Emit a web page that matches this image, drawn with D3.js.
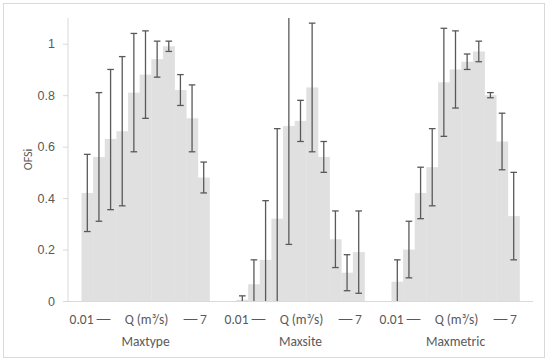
<!DOCTYPE html>
<html>
<head>
<meta charset="utf-8">
<script src="https://cdn.jsdelivr.net/npm/d3@7"></script>
<style>
  body { margin: 0; background: #fff; }
  svg { font-family: Calibri, Carlito, Lato, sans-serif; }
</style>
</head>
<body>
<svg id="chart"></svg>
<script>
// groups along the x axis
const groups = ['Maxtype', 'Maxsite', 'Maxmetric'];
const yTicks = [0, 0.2, 0.4, 0.6, 0.8, 1];

// 11 discharge classes per group (0.01 -> 7 m3/s): mean OFSi and error bar ends
const maxtypeMean = [0.42, 0.56, 0.63, 0.66, 0.81, 0.88, 0.94, 0.99, 0.82, 0.71, 0.48];
const maxtypeHi   = [0.57, 0.81, 0.90, 0.95, 1.04, 1.05, 1.01, 1.01, 0.88, 0.84, 0.54];
const maxtypeLo   = [0.27, 0.31, 0.355, 0.37, 0.58, 0.71, 0.87, 0.97, 0.76, 0.58, 0.42];

const maxsiteMean = [0.005, 0.065, 0.16, 0.32, 0.68, 0.70, 0.83, 0.56, 0.24, 0.11, 0.19];
const maxsiteHi   = [0.02, 0.16, 0.39, 0.67, 1.14, 0.78, 1.08, 0.62, 0.35, 0.18, 0.35];
const maxsiteLo   = [-0.01, -0.03, -0.07, -0.03, 0.22, 0.62, 0.58, 0.50, 0.13, 0.04, 0.03];

const maxmetricMean = [0.075, 0.20, 0.42, 0.52, 0.85, 0.90, 0.93, 0.97, 0.80, 0.62, 0.33];
const maxmetricHi   = [0.16, 0.31, 0.52, 0.67, 1.06, 1.05, 0.96, 1.01, 0.81, 0.73, 0.50];
const maxmetricLo   = [-0.01, 0.09, 0.32, 0.37, 0.64, 0.75, 0.90, 0.93, 0.79, 0.51, 0.16];

const seriesMean = [maxtypeMean, maxsiteMean, maxmetricMean];
const seriesHi = [maxtypeHi, maxsiteHi, maxmetricHi];
const seriesLo = [maxtypeLo, maxsiteLo, maxmetricLo];

const width = 550, height = 361;
const margin = { top: 18, right: 17, bottom: 60, left: 68 };
const plotW = width - margin.left - margin.right;
const plotH = height - margin.top - margin.bottom;

const svg = d3.select('#chart')
  .attr('width', width)
  .attr('height', height);

// outer chart frame
svg.append('rect')
  .attr('x', 3.5).attr('y', 3.5)
  .attr('width', 541).attr('height', 354)
  .attr('fill', '#fff')
  .attr('stroke', '#d9d9d9');

const g = svg.append('g')
  .attr('transform', `translate(${margin.left},${margin.top})`);

const x = d3.scaleBand()
  .domain(groups)
  .range([0, plotW])
  .padding(0);

const y = d3.scaleLinear()
  .domain([0, 1.1])
  .range([plotH, 0]);

// bars inside one group: 11 classes, gap of ~2.3 bar widths between groups
const classes = d3.range(11);
const inner = d3.scaleBand()
  .domain(classes)
  .range([x.bandwidth() * 0.087, x.bandwidth() * 0.913])
  .padding(0);

const rows = [];
groups.forEach((grp, gi) => {
  classes.forEach(i => {
    rows.push({ grp, i, v: seriesMean[gi][i], hi: seriesHi[gi][i], lo: seriesLo[gi][i] });
  });
});

// bars
g.selectAll('.bar')
  .data(rows)
  .enter()
  .append('rect')
  .attr('class', 'bar')
  .attr('x', d => x(d.grp) + inner(d.i))
  .attr('y', d => y(d.v))
  .attr('width', inner.bandwidth() + 0.3)
  .attr('height', d => plotH - y(d.v))
  .attr('fill', '#e0e0e0');

// axes
const yAxis = d3.axisLeft(y).tickValues(yTicks).tickSize(5).tickFormat(d3.format('~g'));
const yAxisG = g.append('g').call(yAxis);
yAxisG.select('.domain').attr('stroke', '#d9d9d9').attr('d', `M0,0V${plotH}`);
yAxisG.selectAll('.tick line').attr('stroke', '#d9d9d9');
yAxisG.selectAll('.tick text')
  .attr('x', -13)
  .attr('fill', '#595959')
  .style('font-size', '12.5px');

g.append('line')
  .attr('x1', 0).attr('x2', plotW)
  .attr('y1', plotH + 0.5).attr('y2', plotH + 0.5)
  .attr('stroke', '#d9d9d9');

// error bars, clipped to the plot area
const clip = v => Math.max(0, Math.min(1.1, v));
const cap = 3.3;
const err = g.selectAll('.err')
  .data(rows)
  .enter()
  .append('g')
  .attr('class', 'err')
  .attr('stroke', '#595959')
  .attr('stroke-width', 1.3);

const cx = d => x(d.grp) + inner(d.i) + inner.bandwidth() / 2;
err.append('line')
  .attr('x1', cx).attr('x2', cx)
  .attr('y1', d => y(clip(d.hi)))
  .attr('y2', d => y(clip(d.lo)));
err.filter(d => d.hi <= 1.1).append('line')
  .attr('x1', d => cx(d) - cap).attr('x2', d => cx(d) + cap)
  .attr('y1', d => y(d.hi)).attr('y2', d => y(d.hi));
err.filter(d => d.lo >= 0).append('line')
  .attr('x1', d => cx(d) - cap).attr('x2', d => cx(d) + cap)
  .attr('y1', d => y(d.lo)).attr('y2', d => y(d.lo));

// category labels: "0.01 —— Q (m³/s) —— 7" then the group name
const labels = g.selectAll('.cat')
  .data(groups)
  .enter()
  .append('g')
  .attr('class', 'cat')
  .attr('transform', d => `translate(${x(d) + x.bandwidth() / 2},0)`)
  .attr('fill', '#595959')
  .style('font-size', '13.5px');

const qy = plotH + 23;
labels.append('text')
  .attr('x', -52).attr('y', qy)
  .attr('text-anchor', 'end')
  .text('0.01');
labels.append('text')
  .attr('x', -50.5).attr('y', qy)
  .attr('textLength', 17).attr('lengthAdjust', 'spacingAndGlyphs')
  .text('\u2014');
labels.append('text')
  .attr('x', 1).attr('y', qy)
  .attr('text-anchor', 'middle')
  .text('Q (m\u00b3/s)');
labels.append('text')
  .attr('x', 36.5).attr('y', qy)
  .attr('textLength', 17).attr('lengthAdjust', 'spacingAndGlyphs')
  .text('\u2014');
labels.append('text')
  .attr('x', 54.5).attr('y', qy)
  .text('7');

labels.append('text')
  .attr('y', plotH + 45)
  .attr('text-anchor', 'middle')
  .text(d => d);

// y label
svg.append('text')
  .attr('transform', `translate(32,${margin.top + y(0.55)}) rotate(-90)`)
  .attr('text-anchor', 'middle')
  .attr('fill', '#595959')
  .style('font-size', '12px')
  .text('OFSi');
</script>
</body>
</html>
